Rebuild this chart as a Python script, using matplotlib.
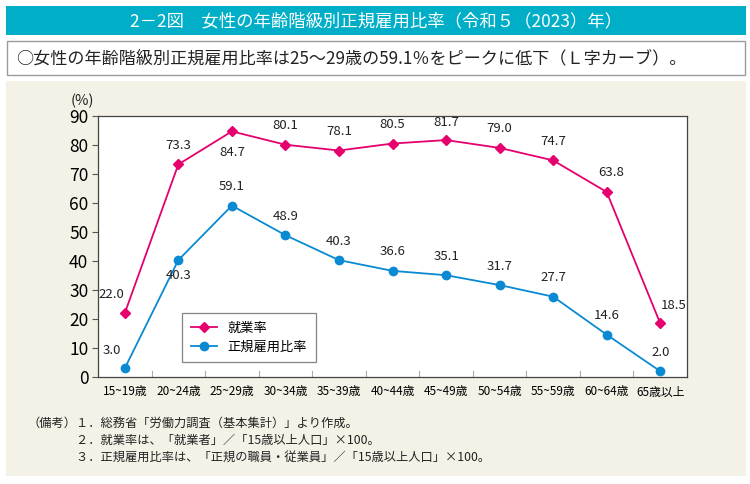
import matplotlib
matplotlib.use("Agg")
import matplotlib.pyplot as plt
from matplotlib.patches import Rectangle

plt.rcParams['font.family'] = ['Noto Sans CJK JP', 'DejaVu Sans']

categories = ["15~19歳", "20~24歳", "25~29歳", "30~34歳", "35~39歳", "40~44歳",
              "45~49歳", "50~54歳", "55~59歳", "60~64歳", "65歳以上"]
employment = [22.0, 73.3, 84.7, 80.1, 78.1, 80.5, 81.7, 79.0, 74.7, 63.8, 18.5]
regular = [3.0, 40.3, 59.1, 48.9, 40.3, 36.6, 35.1, 31.7, 27.7, 14.6, 2.0]
yticks = [0, 10, 20, 30, 40, 50, 60, 70, 80, 90]

W, H = 750, 484
fig = plt.figure(figsize=(W / 100, H / 100), dpi=100)
fig.patch.set_facecolor("white")

def rect(x0, y0, x1, y1, **kw):
    fig.patches.append(Rectangle((x0 / W, 1 - y1 / H), (x1 - x0) / W, (y1 - y0) / H,
                                 transform=fig.transFigure, figure=fig, zorder=-5, **kw))

# title bar
rect(6, 6, 746, 35, facecolor="#00AEC7", edgecolor="none")
fig.text(376 / W, 1 - 21 / H, "2－2図　女性の年齢階級別正規雇用比率（令和５（2023）年）",
         color="white", fontsize=12.5, ha="center", va="center")
# subtitle box
rect(7, 41, 745, 75, facecolor="white", edgecolor="#9a9a9a", linewidth=1)
fig.text(16 / W, 1 - 58 / H, "○女性の年齢階級別正規雇用比率は25～29歳の59.1％をピークに低下（Ｌ字カーブ）。",
         color="#222222", fontsize=12.3, ha="left", va="center")
# beige background
rect(6, 81, 746, 476, facecolor="#F4F1E6", edgecolor="none")

# plot axes
x0, x1, ytop, ybot = 98, 687, 116, 377
ax = fig.add_axes([x0 / W, 1 - ybot / H, (x1 - x0) / W, (ybot - ytop) / H])
ax.set_zorder(2)
ax.set_facecolor("white")
pink = "#E5006E"
blue = "#0A8AD2"
xs = list(range(len(categories)))
ax.plot(xs, employment, color=pink, marker="D", markersize=5.5, linewidth=1.3, label="就業率")
ax.plot(xs, regular, color=blue, marker="o", markersize=6, linewidth=1.3, label="正規雇用比率")
ax.set_xlim(-0.5, len(categories) - 0.5)
ax.set_ylim(0, 90)
ax.set_yticks(yticks)
ax.set_yticklabels([str(v) for v in yticks], fontsize=12.5)
ax.set_xticks(xs)
ax.set_xticklabels(categories, fontsize=8.5)
ax.tick_params(axis="x", length=0, pad=6)
ax.tick_params(axis="y", length=4, direction="out", color="#555555", pad=3)
for b in [i + 0.5 for i in range(len(categories) - 1)]:
    ax.plot([b, b], [0, 2.2], color="#aaaaaa", linewidth=0.8, clip_on=False)
for s in ax.spines.values():
    s.set_color("#444444")
    s.set_linewidth(0.9)

# labels (offsets in points)
emp_off = [(-10, 9), (0, 9), (0, -20), (0, 9), (0, 9), (0, 9), (0, 8), (0, 9), (0, 9), (3, 9), (10, 8)]
reg_off = [(-9, 8), (0, -16), (0, 9), (0, 9), (0, 9), (0, 9), (0, 9), (0, 9), (0, 9), (0, 9), (0, 9)]
for i, v in enumerate(employment):
    ax.annotate(f"{v:.1f}", (i, v), xytext=emp_off[i], textcoords="offset points",
                ha="center", va="bottom", fontsize=9.5, color="#222222")
for i, v in enumerate(regular):
    ax.annotate(f"{v:.1f}", (i, v), xytext=reg_off[i], textcoords="offset points",
                ha="center", va="bottom", fontsize=9.5, color="#222222")

leg = ax.legend(loc="lower left", bbox_to_anchor=((182 - x0) / (x1 - x0), (ybot - 362) / (ybot - ytop)),
                frameon=True, fancybox=False, fontsize=9.5, handlelength=2.0,
                borderpad=0.65, labelspacing=0.45, edgecolor="#666666", borderaxespad=0)
leg.get_frame().set_linewidth(0.9)

fig.text(82 / W, 1 - 101 / H, "(%)", fontsize=10.5, ha="center", va="center", color="#222222")

# notes
notes = ["（備考）１．総務省「労働力調査（基本集計）」より作成。",
         "　　　　２．就業率は、「就業者」／「15歳以上人口」×100。",
         "　　　　３．正規雇用比率は、「正規の職員・従業員」／「15歳以上人口」×100。"]
for k, t in enumerate(notes):
    fig.text(27 / W, 1 - (423 + 17 * k) / H, t, fontsize=8.8, ha="left", va="center", color="#222222")

fig.savefig("out.png", dpi=100, facecolor=fig.get_facecolor())
